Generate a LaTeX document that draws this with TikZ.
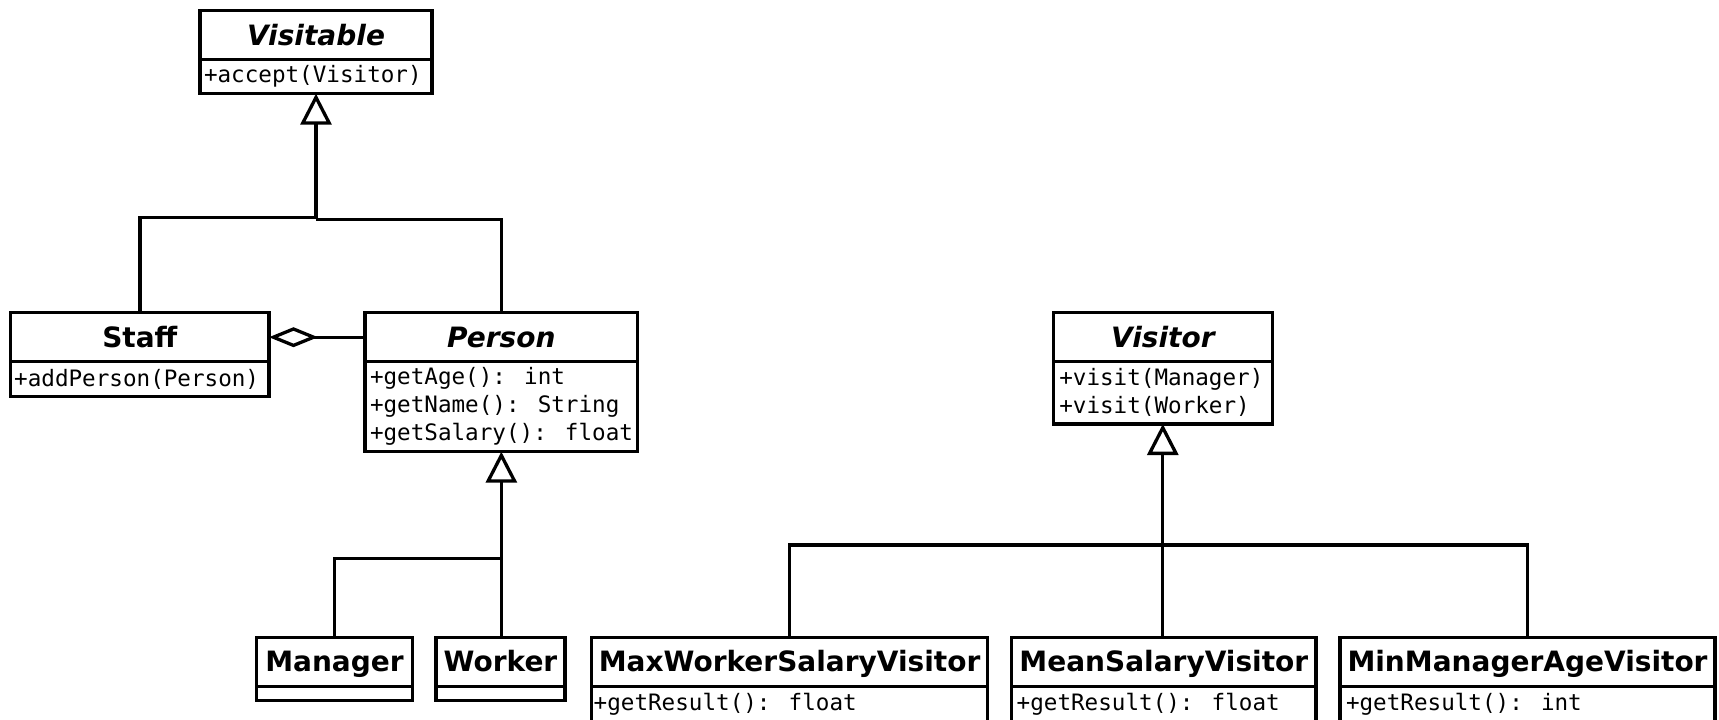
\documentclass[tikz,border=0pt]{standalone}
\usepackage{fontspec}
\setmainfont{DejaVu Sans}
\newfontfamily\monof{DejaVu Sans Mono}
\usetikzlibrary{arrows.meta}

\tikzset{
  classhead/.style={draw, line width=3.3pt, outer sep=0pt, inner sep=0pt,
    text height=21pt, text depth=1pt,
    font=\fontsize{28}{32}\selectfont\bfseries},
  abstracthead/.style={classhead, font=\fontsize{28}{32}\selectfont\bfseries\itshape},
  classbody/.style={draw, line width=3.3pt, outer sep=0pt, inner sep=0pt},
  methods/.style={inner sep=0pt, outer sep=0pt, align=left,
    font=\monof\fontsize{22.6}{28}\selectfont},
  link/.style={line width=3.3pt},
  inherit/.style={link, -{Triangle[open, length=31pt, width=31pt]}},
  aggreg/.style={link, -{Diamond[open, length=49pt, width=20pt]}},
}

% [head style] name, top-left corner, width, body height, text indent, title, methods, extra
\newcommand{\umlclass}[9][classhead]{%
  \node[#1, minimum width=#4pt, minimum height=49pt, anchor=north west] (#2H) at (#3) {#7};
  \node[classbody, minimum width=#4pt, minimum height=#5pt, anchor=north west] (#2B) at (#2H.south west) {};
  \node[methods, anchor=west] (#2T) at ([xshift=#6pt]#2B.west) {#8};
  \coordinate (#2X) at (#2H.north) ; % top attachment
  \coordinate (#2Y) at (#2B.south) ; % bottom attachment
  \ignorespaces#9}

\begin{document}
\begin{tikzpicture}[x=1pt, y=-1pt]
  \useasboundingbox (0,0) rectangle (1719,720);
  \clip (0,0) rectangle (1719,720);

  % top-level interfaces and classes
  \umlclass[abstracthead]{visitable}{200,10.7}{232}{34}{4}{Visitable}{+accept(Visitor)}{}
  \umlclass{staff}{10.7,312.7}{258.3}{35}{3.5}{Staff}{+addPerson(Person)}{}
  \umlclass[abstracthead]{person}{365,312.7}{272.7}{90}{5}{Person}{+getAge(): int\\+getName(): String\\+getSalary(): float}{}
  \umlclass[abstracthead]{visitor}{1053.3,312.7}{219}{62.3}{6}{Visitor}{+visit(Manager)\\+visit(Worker)}{}

  % concrete persons
  \umlclass{manager}{256.7,637.3}{155.6}{14}{4}{Manager}{}{}
  \umlclass{worker}{436,637.3}{129}{14}{4}{Worker}{}{}

  % concrete visitors
  \umlclass{maxv}{591.7,637.3}{395.8}{35}{2}{MaxWorkerSalaryVisitor}{+getResult(): float}{}
  \umlclass{meanv}{1011.7,637.3}{304.3}{35}{5}{MeanSalaryVisitor}{+getResult(): float}{}
  \umlclass{minv}{1340,637.3}{375}{35}{6}{MinManagerAgeVisitor}{+getResult(): int}{}

  % generalisation: Staff, Person -> Visitable
  \coordinate (vjoin) at (visitableY |- 0,217.3);
  \draw[inherit] (staffX) |- (vjoin) -- (visitableY);
  \draw[link] (personX) |- ([yshift=-2pt]vjoin);

  % aggregation: Staff <>-- Person
  \draw[aggreg] (personH.west) -- (staffH.east);

  % generalisation: Manager, Worker -> Person
  \coordinate (pjoin) at (personY |- 0,558.3);
  \draw[inherit] (personY |- workerX) -- (personY);
  \draw[link] (managerX) |- (pjoin);

  % generalisation: concrete visitors -> Visitor
  \coordinate (wjoin) at (visitorY |- 0,545);
  \draw[inherit] (visitorY |- meanvX) -- (visitorY);
  \draw[link] (maxvX) |- (wjoin) -| (minvX);
\end{tikzpicture}
\end{document}
